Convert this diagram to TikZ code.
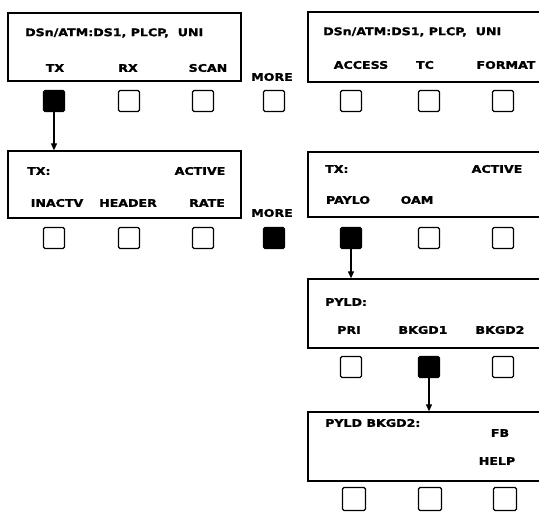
\documentclass[tikz,border=0pt]{standalone}
\usepackage{fontspec}
\newfontfamily\lbfamily[FakeStretch=1.2,FakeBold=1.5]{DejaVu Sans}
\usetikzlibrary{arrows.meta}
\tikzset{
  lbl/.style={font=\lbfamily\bfseries\fontsize{10.5}{12}\selectfont, inner sep=0pt},
  screen/.style={draw=black, line width=1.3pt, minimum width=233pt, inner sep=0pt},
  rscreen/.style={draw=black, line width=1.3pt, minimum width=237pt, inner sep=0pt},
  key/.style={draw=black, line width=1.3pt, rounded corners=1.5pt, minimum size=21pt, inner sep=0pt},
  keyon/.style={key, fill=black},
  sel/.style={-{Triangle[length=7pt,width=6pt]}, line width=1.2pt}
}
\begin{document}
\begin{tikzpicture}[x=1pt,y=-1pt]
\useasboundingbox (0,0) rectangle (539,512);
\clip (0,0) rectangle (539,512);
% screens
\node[screen, minimum height=68pt] (L1) at (124.5,47) {};
\node[rscreen, minimum height=70pt] (R1) at (426.5,47) {};
\node[screen, minimum height=67pt] (L2) at (124.5,184.5) {};
\node[rscreen, minimum height=65pt] (R2) at (426.5,184.5) {};
\node[rscreen, minimum height=69pt] (R3) at (426.5,313.5) {};
\node[rscreen, minimum height=69pt] (R4) at (426.5,446.5) {};
% screen texts
\node[lbl, anchor=west] (t1) at (25,33) {DSn/ATM:DS1, PLCP,\ \ UNI};
\node[lbl] (t2) at (55,68) {TX};
\node[lbl] (t3) at (128,68) {RX};
\node[lbl] (t4) at (208,68) {SCAN};
\node[lbl, anchor=west] (t5) at (323,32) {DSn/ATM:DS1, PLCP,\ \ UNI};
\node[lbl] (t6) at (361,65) {ACCESS};
\node[lbl] (t7) at (425,65) {TC};
\node[lbl] (t8) at (506,65) {FORMAT};
\node[lbl, anchor=west] (t9) at (27,171) {TX:};
\node[lbl] (t10) at (200,171) {ACTIVE};
\node[lbl] (t11) at (57,203) {INACTV};
\node[lbl] (t12) at (128,203) {HEADER};
\node[lbl] (t13) at (207,203) {RATE};
\node[lbl, anchor=west] (t14) at (325,169) {TX:};
\node[lbl] (t15) at (497,169) {ACTIVE};
\node[lbl] (t16) at (348,200) {PAYLO};
\node[lbl] (t17) at (417,200) {OAM};
\node[lbl, anchor=west] (t18) at (325,302) {PYLD:};
\node[lbl] (t19) at (349,330) {PRI};
\node[lbl] (t20) at (423,330) {BKGD1};
\node[lbl] (t21) at (500,330) {BKGD2};
\node[lbl, anchor=west] (t22) at (325,423) {PYLD BKGD2:};
\node[lbl] (t23) at (500,433) {FB};
\node[lbl] (t24) at (497,461) {HELP};
\node[lbl] (m1) at (272,77) {MORE};
\node[lbl] (m2) at (272,213) {MORE};
% keys row 1
\node[keyon] (k11) at (54,101) {};
\node[key] (k12) at (129,101) {};
\node[key] (k13) at (203,101) {};
\node[key] (k14) at (274,101) {};
\node[key] (k15) at (351,101) {};
\node[key] (k16) at (429,101) {};
\node[key] (k17) at (503,101) {};
% keys row 2
\node[key] (k21) at (54,238) {};
\node[key] (k22) at (129,238) {};
\node[key] (k23) at (203,238) {};
\node[keyon] (k24) at (274,238) {};
\node[keyon] (k25) at (351,238) {};
\node[key] (k26) at (429,238) {};
\node[key] (k27) at (503,238) {};
% keys row 3
\node[key] (k31) at (351,367) {};
\node[keyon] (k32) at (429,367) {};
\node[key] (k33) at (503,367) {};
% keys row 4
\node[key, minimum size=23pt] (k41) at (354,499) {};
\node[key, minimum size=23pt] (k42) at (430,499) {};
\node[key, minimum size=23pt] (k43) at (505,499) {};
% connectors
\draw[sel] (k11.south) -- (k11.south |- L2.north);
\draw[sel] (k25.south) -- (k25.south |- R3.north);
\draw[sel] (k32.south) -- (k32.south |- R4.north);
\end{tikzpicture}
\end{document}
